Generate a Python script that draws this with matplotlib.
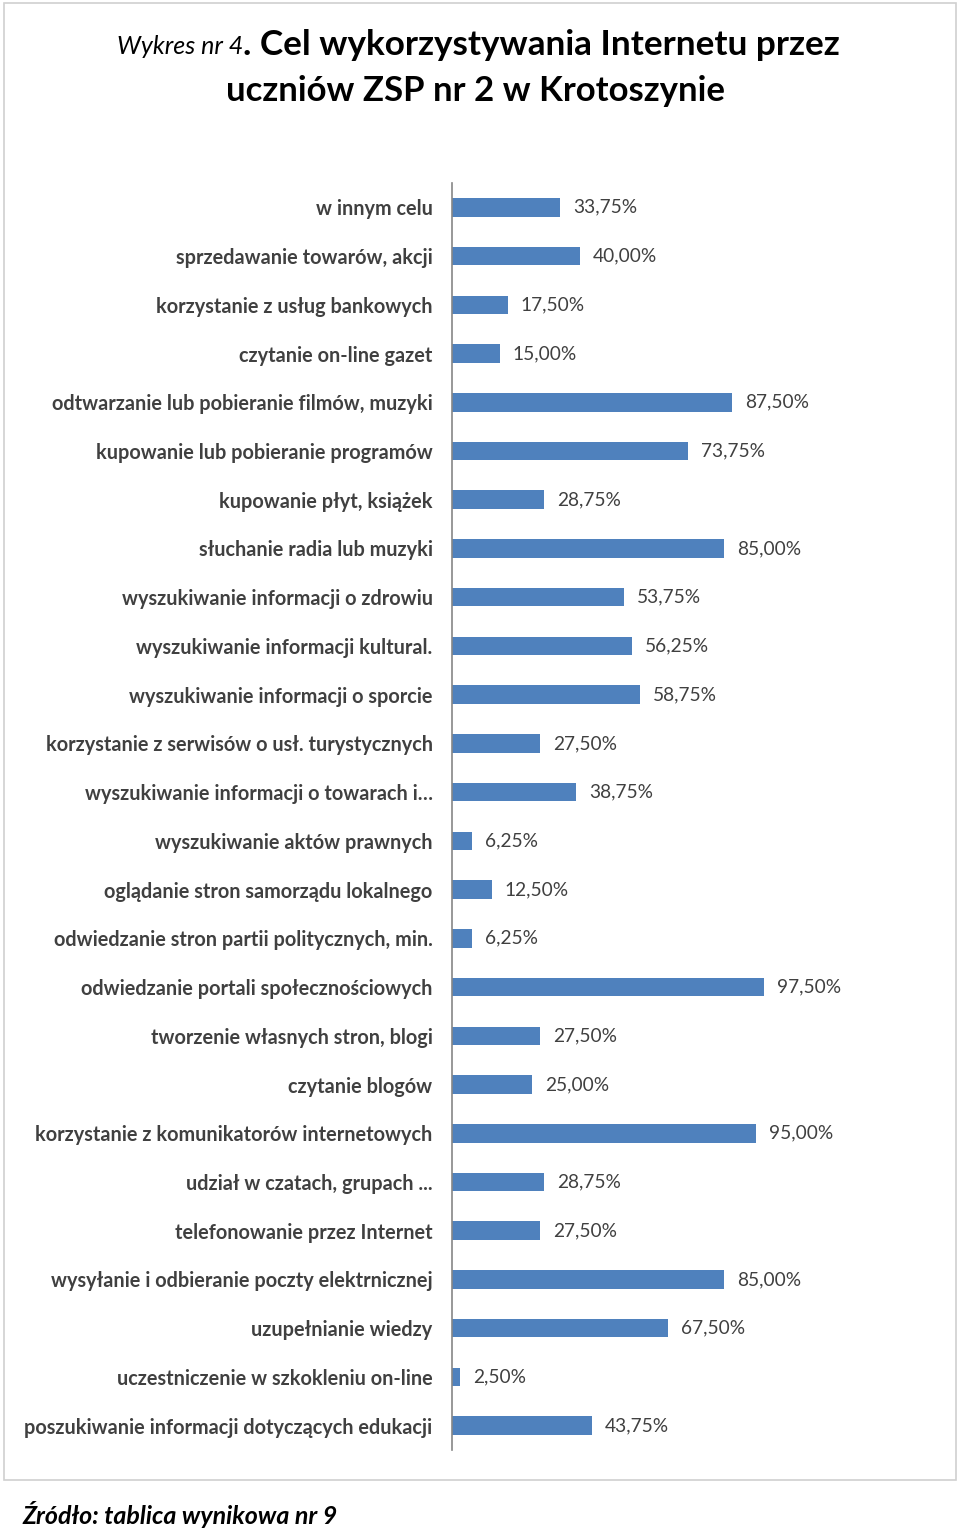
import matplotlib
matplotlib.use("Agg")
import matplotlib.pyplot as plt
from matplotlib.patches import Rectangle

categories = [
    "w innym celu",
    "sprzedawanie towarów, akcji",
    "korzystanie z usług bankowych",
    "czytanie on-line gazet",
    "odtwarzanie lub pobieranie filmów, muzyki",
    "kupowanie lub pobieranie programów",
    "kupowanie płyt, książek",
    "słuchanie radia lub muzyki",
    "wyszukiwanie informacji o zdrowiu",
    "wyszukiwanie informacji kultural.",
    "wyszukiwanie informacji o sporcie",
    "korzystanie z serwisów o usł. turystycznych",
    "wyszukiwanie informacji o towarach i…",
    "wyszukiwanie aktów prawnych",
    "oglądanie stron samorządu lokalnego",
    "odwiedzanie stron partii politycznych, min.",
    "odwiedzanie portali społecznościowych",
    "tworzenie własnych stron, blogi",
    "czytanie blogów",
    "korzystanie z komunikatorów internetowych",
    "udział w czatach, grupach ...",
    "telefonowanie przez Internet",
    "wysyłanie i odbieranie poczty elektrnicznej",
    "uzupełnianie wiedzy",
    "uczestniczenie w szkokleniu on-line",
    "poszukiwanie informacji dotyczących edukacji",
]
values = [33.75, 40.00, 17.50, 15.00, 87.50, 73.75, 28.75, 85.00, 53.75, 56.25,
          58.75, 27.50, 38.75, 6.25, 12.50, 6.25, 97.50, 27.50, 25.00, 95.00,
          28.75, 27.50, 85.00, 67.50, 2.50, 43.75]

FONT = ["Lato", "DejaVu Sans"]
plt.rcParams["font.family"] = FONT

W, H = 960, 1530
fig = plt.figure(figsize=(W / 100, H / 100), dpi=100)

# chart border
fig.patches.append(Rectangle((4 / W, 1 - 1480 / H), 952 / W, 1477 / H,
                             transform=fig.transFigure, fill=False,
                             edgecolor="#d0d0d0", linewidth=1.2))

ax_left, ax_right = 452, 900
ax_top, ax_bot = 183, 1450
ax = fig.add_axes([ax_left / W, 1 - ax_bot / H, (ax_right - ax_left) / W, (ax_bot - ax_top) / H])

n = len(categories)
ypos = list(range(n))
ax.barh(ypos, values, height=0.38, color="#4F81BD")
ax.set_ylim(n - 0.5, -0.5)
ax.set_xlim(0, 140)
for s in ["top", "right", "bottom"]:
    ax.spines[s].set_visible(False)
ax.spines["left"].set_color("#868686")
ax.spines["left"].set_linewidth(1.2)
ax.set_xticks([])
ax.set_yticks(ypos)
ax.set_yticklabels(categories, fontsize=14.3, fontweight="bold", color="#404040")
ax.tick_params(axis="y", length=0, pad=14)

for y, v in zip(ypos, values):
    ax.text(v + 4, y, f"{v:.2f}%".replace(".", ","), va="center", ha="left",
            fontsize=13.8, color="#404040")

# title
fig.canvas.draw()
r = fig.canvas.get_renderer()
t1 = fig.text(117 / W, 1 - 47 / H, "Wykres nr 4", fontsize=18, style="italic",
              color="#000000", va="center", ha="left")
bb = t1.get_window_extent(r)
t2 = fig.text(bb.x1 / W, 1 - 45 / H, ". Cel wykorzystywania Internetu przez",
              fontsize=25.3, fontweight="bold", color="#000000", va="center", ha="left")
fig.text(476 / W, 1 - 91 / H, "uczniów ZSP nr 2 w Krotoszynie", fontsize=25,
         fontweight="bold", color="#000000", va="center", ha="center")

# source
fig.text(22 / W, 1 - 1515 / H, "Źródło: tablica wynikowa nr 9", fontsize=18,
         fontweight="bold", style="italic", color="#000000", va="center", ha="left")

fig.savefig("out.png", dpi=100)
